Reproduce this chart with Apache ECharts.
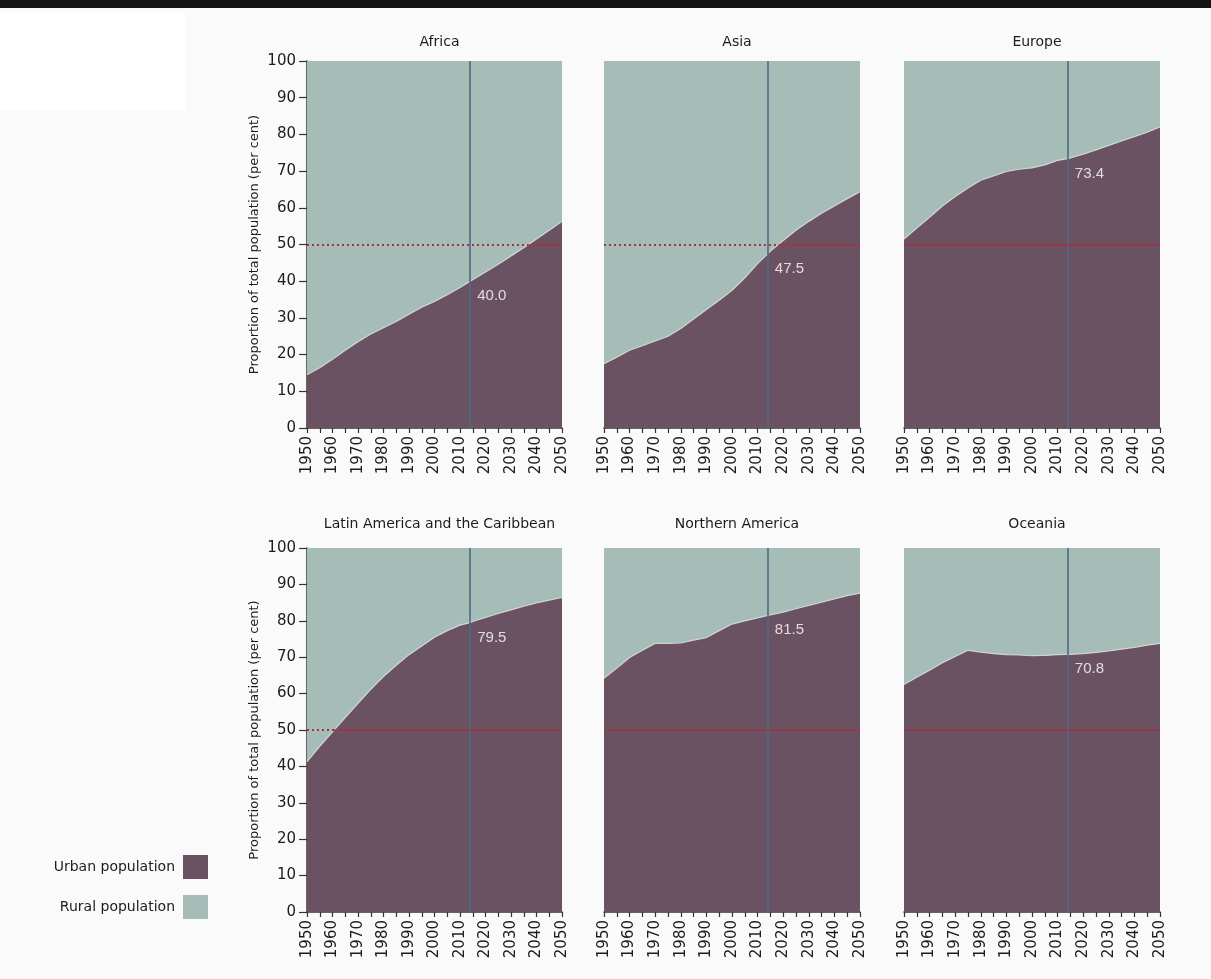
<!DOCTYPE html>
<html>
<head>
<meta charset="utf-8">
<title>Urban and rural population by region, 1950-2050</title>
<script src="https://cdn.jsdelivr.net/npm/echarts@6/dist/echarts.min.js"></script>
<style>
  html, body { margin: 0; padding: 0; background: #fafafa; }
  #chart { width: 1211px; height: 979px; }
</style>
</head>
<body>
<div id="chart"></div>
<script>
// Years sampled (five-year steps plus the 2014 estimate year)
const years = [1950, 1955, 1960, 1965, 1970, 1975, 1980, 1985, 1990, 1995, 2000,
               2005, 2010, 2014, 2015, 2020, 2025, 2030, 2035, 2040, 2045, 2050];

// Urban share of total population (per cent); the rest is rural
const africaUrban   = [14.5, 16.4, 18.7, 21.2, 23.5, 25.6, 27.3, 29.0, 31.0, 32.9, 34.5,
                       36.3, 38.3, 40.0, 40.4, 42.5, 44.6, 46.9, 49.1, 51.5, 53.9, 56.3];
const asiaUrban     = [17.5, 19.3, 21.2, 22.4, 23.7, 25.0, 27.1, 29.7, 32.3, 34.8, 37.5,
                       40.9, 44.8, 47.5, 48.2, 51.1, 53.9, 56.3, 58.5, 60.5, 62.5, 64.4];
const europeUrban   = [51.5, 54.5, 57.4, 60.5, 63.1, 65.4, 67.5, 68.7, 69.9, 70.5, 70.9,
                       71.7, 72.9, 73.4, 73.6, 74.6, 75.8, 77.0, 78.2, 79.4, 80.6, 82.0];
const latamUrban    = [41.3, 45.5, 49.5, 53.4, 57.3, 61.2, 64.7, 67.8, 70.7, 73.1, 75.5,
                       77.3, 78.8, 79.5, 79.8, 80.9, 82.0, 83.0, 84.0, 84.9, 85.7, 86.4];
const nAmericaUrban = [64.2, 67.0, 69.9, 71.9, 73.8, 73.8, 73.9, 74.7, 75.4, 77.3, 79.1,
                       80.0, 80.8, 81.5, 81.6, 82.4, 83.3, 84.2, 85.1, 86.0, 86.9, 87.6];
const oceaniaUrban  = [62.5, 64.5, 66.4, 68.5, 70.2, 71.9, 71.4, 71.0, 70.7, 70.6, 70.4,
                       70.5, 70.7, 70.8, 70.8, 71.0, 71.3, 71.7, 72.2, 72.7, 73.3, 73.8];

const regionNames = ['Africa', 'Asia', 'Europe',
                     'Latin America and the Caribbean', 'Northern America', 'Oceania'];
const regionUrban = [africaUrban, asiaUrban, europeUrban, latamUrban, nAmericaUrban, oceaniaUrban];

const markYear = 2014;     // year highlighted by the vertical rule
const halfLine = 50;       // 50 per cent reference
const yAxisTitle = 'Proportion of total population (per cent)';
const seriesNames = ['Urban population', 'Rural population'];

const URBAN = '#6b5262';
const RURAL = '#a5bdb6';
const RED = '#a3343f';
const RULE = '#4e6a86';
const INK = '#1c1c1c';
const FONT = 'DejaVu Sans';

// Panel placement (pixels)
const colLeft = [307, 604, 904];
const colWidth = [255, 256, 256];
const rowTop = [61, 548];
const rowHeight = [367, 364];

// Year where urban share first reaches 50 per cent (linear between samples)
function crossingYear(vals) {
  if (vals[0] >= halfLine) return years[0];
  for (let i = 1; i < vals.length; i++) {
    if (vals[i] >= halfLine) {
      const t = (halfLine - vals[i - 1]) / (vals[i] - vals[i - 1]);
      return years[i - 1] + t * (years[i] - years[i - 1]);
    }
  }
  return years[years.length - 1];
}

const grids = [], xAxes = [], yAxes = [], series = [], titles = [];

regionNames.forEach((name, i) => {
  const row = Math.floor(i / 3), col = i % 3;
  const urban = regionUrban[i];
  const boundary = years.map((y, k) => [y, urban[k]]);
  const leftCol = col === 0;

  grids.push({
    left: colLeft[col], top: rowTop[row],
    width: colWidth[col], height: rowHeight[row],
    containLabel: false
  });

  titles.push({
    text: name,
    left: colLeft[col] + colWidth[col] / 2,
    top: row === 0 ? 30 : 512,
    textAlign: 'center',
    textStyle: { fontFamily: FONT, fontSize: 14, fontWeight: 'normal', color: INK }
  });

  xAxes.push({
    type: 'value', gridIndex: i, min: 1950, max: 2050, interval: 10,
    axisLine: { show: true, onZero: false, lineStyle: { color: '#333', width: 1.5 } },
    axisTick: { show: true, length: 5, lineStyle: { color: '#333', width: 1.2 } },
    minorTick: { show: true, splitNumber: 2, length: 5, lineStyle: { color: '#333', width: 1.2 } },
    splitLine: { show: false },
    axisLabel: {
      rotate: 90, margin: 8, fontFamily: FONT, fontSize: 15, color: INK,
      formatter: v => String(v)
    }
  });

  yAxes.push({
    type: 'value', gridIndex: i, min: 0, max: 100, interval: 10,
    show: leftCol,
    name: leftCol ? yAxisTitle : '',
    nameLocation: 'middle', nameGap: 46, nameRotate: 90,
    nameTextStyle: { fontFamily: FONT, fontSize: 13, color: INK },
    axisLine: { show: leftCol, lineStyle: { color: '#333', width: 1.5 } },
    axisTick: { show: leftCol, length: 8, lineStyle: { color: '#333', width: 1.2 } },
    splitLine: { show: false },
    axisLabel: { show: leftCol, margin: 11, fontFamily: FONT, fontSize: 15, color: INK }
  });

  const cross = crossingYear(urban);
  const redSegments = [];
  if (cross > years[0]) {
    redSegments.push([
      { coord: [years[0], halfLine], lineStyle: { color: RED, width: 2, type: [2, 3] } },
      { coord: [cross, halfLine] }
    ]);
  }
  redSegments.push([
    { coord: [cross, halfLine], lineStyle: { color: RED, width: 1.6, type: 'solid' } },
    { coord: [years[years.length - 1], halfLine] }
  ]);

  // Urban share: filled from the boundary down to 0
  series.push({
    name: seriesNames[0], type: 'line', xAxisIndex: i, yAxisIndex: i,
    showSymbol: false, symbol: 'none', silent: true,
    data: boundary,
    itemStyle: { color: URBAN },
    lineStyle: { color: 'rgba(214,222,219,0.9)', width: 1.2 },
    areaStyle: { color: URBAN, opacity: 1, origin: 'start' },
    z: 3
  });

  // Rural share: filled from the same boundary up to 100
  series.push({
    name: seriesNames[1], type: 'line', xAxisIndex: i, yAxisIndex: i,
    showSymbol: false, symbol: 'none', silent: true,
    data: boundary,
    itemStyle: { color: RURAL },
    lineStyle: { color: RURAL, width: 0.5 },
    areaStyle: { color: RURAL, opacity: 1, origin: 'end' },
    z: 2,
    markLine: {
      silent: true, symbol: ['none', 'none'], label: { show: false },
      animation: false, z: 6,
      data: [
        { xAxis: markYear, lineStyle: { color: RULE, width: 1.6, type: 'solid' } },
        ...redSegments
      ]
    }
  });

  // Value label for the highlighted year
  const markIdx = years.indexOf(markYear);
  series.push({
    type: 'scatter', xAxisIndex: i, yAxisIndex: i, silent: true,
    symbolSize: 0, z: 10,
    data: [[markYear, urban[markIdx]]],
    label: {
      show: true, position: 'right', distance: 7, offset: [0, 15],
      fontFamily: 'Liberation Sans', fontSize: 15, color: '#ffffff',
      formatter: p => p.value[1].toFixed(1)
    }
  });
});

const chart = echarts.init(document.getElementById('chart'), null, { renderer: 'canvas' });
chart.setOption({
  animation: false,
  backgroundColor: '#fafafa',
  title: titles,
  grid: grids,
  xAxis: xAxes,
  yAxis: yAxes,
  series: series,
  legend: {
    data: seriesNames,
    orient: 'vertical', align: 'right',
    right: 998, top: 850,
    itemWidth: 25, itemHeight: 24, itemGap: 16,
    icon: 'rect', selectedMode: false,
    textStyle: { fontFamily: FONT, fontSize: 14, color: INK, padding: [0, 3, 0, 0] }
  },
  graphic: [
    { type: 'rect', left: 0, top: 0, shape: { width: 1211, height: 8 }, style: { fill: '#141414' }, silent: true },
    { type: 'rect', left: 0, top: 12, shape: { width: 185, height: 98 }, style: { fill: '#ffffff' }, silent: true, z: -1 }
  ]
});
</script>
</body>
</html>
